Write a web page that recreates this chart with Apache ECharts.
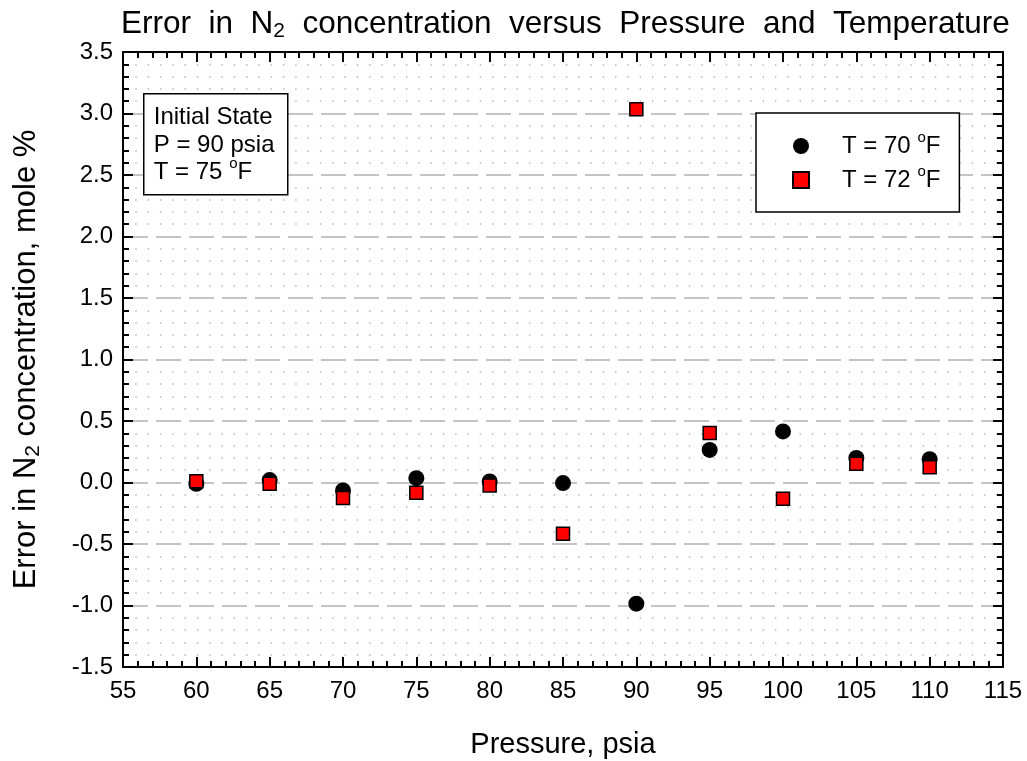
<!DOCTYPE html>
<html>
<head>
<meta charset="utf-8">
<script src="https://cdn.jsdelivr.net/npm/echarts@6/dist/echarts.min.js"></script>
<style>
html,body{margin:0;padding:0;background:#fff;}
#chart{width:1027px;height:761px;}
</style>
</head>
<body>
<div id="chart"></div>
<script>
// Data
var pressures = [60, 65, 70, 75, 80, 85, 90, 95, 100, 105, 110];
var errT70 = [-0.01, 0.02, -0.065, 0.035, 0.008, -0.005, -0.985, 0.265, 0.415, 0.20, 0.19];
var errT72 = [0.01, -0.01, -0.127, -0.084, -0.024, -0.416, 3.035, 0.403, -0.133, 0.152, 0.124];
var seriesNames = ['T = 70 oF', 'T = 72 oF'];
var xTicks = {min: 55, max: 115, interval: 5};
var yTicks = {min: -1.5, max: 3.5, interval: 0.5};

var FONT = '"Liberation Sans", Arial, Helvetica, sans-serif';

function pairs(xs, ys){ return xs.map(function(x,i){return [x, ys[i]];}); }

var chart = echarts.init(document.getElementById('chart'), null, {renderer:'canvas'});

var axisLineStyle = {color:'#000', width:2};
var baseX = {
  type:'value', min:xTicks.min, max:xTicks.max, interval:xTicks.interval,
  axisLine:{show:true, onZero:false, lineStyle:axisLineStyle},
  axisTick:{show:true, inside:true, length:10, lineStyle:{color:'#000', width:2}},
  minorTick:{show:true, splitNumber:5, length:6, lineStyle:{color:'#000', width:2}},
  splitLine:{show:false}, minorSplitLine:{show:false}
};
var baseY = {
  type:'value', min:yTicks.min, max:yTicks.max, interval:yTicks.interval,
  axisLine:{show:true, onZero:false, lineStyle:axisLineStyle},
  axisTick:{show:true, inside:true, length:10, lineStyle:{color:'#000', width:2}},
  minorTick:{show:true, splitNumber:5, length:6, lineStyle:{color:'#000', width:2}},
  splitLine:{show:false}, minorSplitLine:{show:false}
};

var supStyle = {fontFamily:FONT, fontSize:15, color:'#000', lineHeight:8, padding:[0,0,17,0]};

var option = {
  backgroundColor:'#fff',
  animation:false,
  title:{
    text:'{t|Error  in  N}{sub|2}{t|  concentration  versus  Pressure  and  Temperature}',
    left:116, top:1,
    textStyle:{
      fontWeight:'normal',
      rich:{
        t:{fontFamily:FONT, fontSize:31.5, fontWeight:'normal', color:'#000'},
        sub:{fontFamily:FONT, fontSize:21, fontWeight:'normal', color:'#000', padding:[15,0,0,0]}
      }
    }
  },
  grid:{left:123, right:24, top:52, bottom:94, containLabel:false, outerBoundsMode:'none'},
  legend:{
    data:[
      {name:seriesNames[0], icon:'circle'},
      {name:seriesNames[1], icon:'rect'}
    ],
    orient:'vertical', left:756, top:113,
    itemWidth:16, itemHeight:16, itemGap:2,
    padding:[17,19,16,36],
    borderColor:'#000', borderWidth:1.5, backgroundColor:'#fff',
    formatter:function(n){
      var v = n.replace('T = ','').replace(' oF','');
      return '{a|T = ' + v + ' }{s|o}{a|F}';
    },
    textStyle:{
      rich:{
        a:{fontFamily:FONT, fontSize:24, color:'#000', lineHeight:24},
        s:supStyle
      },
      padding:[0,0,0,28]
    }
  },
  xAxis:[
    Object.assign({}, baseX, {
      position:'bottom',
      axisLabel:{show:true, margin:12, fontFamily:FONT, fontSize:24, color:'#000'},
      name:'Pressure, psia', nameLocation:'middle', nameGap:63,
      nameTextStyle:{fontFamily:FONT, fontSize:29, color:'#000'}
    }),
    Object.assign({}, baseX, {position:'top', axisLabel:{show:false}})
  ],
  yAxis:[
    Object.assign({}, baseY, {
      position:'left',
      axisLabel:{show:true, margin:10, fontFamily:FONT, fontSize:24, color:'#000',
        formatter:function(v){return v.toFixed(1);}},
      splitLine:{show:true, lineStyle:{color:'#c4c4c4', width:2, type:[25,8]}},
      minorSplitLine:{show:true, lineStyle:{color:'#b8b8b8', width:1.5, type:[1.5,10.8]}},
      name:'{a|Error in N}{sub|2}{a| concentration, mole %}',
      nameLocation:'middle', nameGap:79, nameRotate:90,
      nameTextStyle:{
        rich:{
          a:{fontFamily:FONT, fontSize:31, color:'#000'},
          sub:{fontFamily:FONT, fontSize:21, color:'#000', padding:[15,0,0,0]}
        }
      }
    }),
    Object.assign({}, baseY, {position:'right', axisLabel:{show:false}})
  ],
  series:[
    {
      name:seriesNames[0], type:'scatter', xAxisIndex:0, yAxisIndex:0,
      symbol:'circle', symbolSize:16,
      itemStyle:{color:'#000', opacity:1},
      data:pairs(pressures, errT70), z:3
    },
    {
      name:seriesNames[1], type:'scatter', xAxisIndex:0, yAxisIndex:0,
      symbol:'rect', symbolSize:13,
      itemStyle:{color:'#ff0000', borderColor:'#000', borderWidth:1.5, opacity:1},
      data:pairs(pressures, errT72), z:4
    }
  ],
  graphic:[
    {
      type:'group', left:143, top:93, z:100,
      children:[
        {type:'rect', z:100, shape:{x:0, y:0, width:144, height:101},
         style:{fill:'#fff', stroke:'#000', lineWidth:1.5}},
        {type:'text', z:101, left:10, top:12,
         style:{
           text:'{a|Initial State}\n{a|P = 90 psia}\n{a|T = 75 }{s|o}{a|F}',
           rich:{
             a:{fontFamily:FONT, fontSize:24, fill:'#000', lineHeight:27.5},
             s:{fontFamily:FONT, fontSize:15, fill:'#000', lineHeight:8, padding:[0,0,17,0]}
           }
         }}
      ]
    }
  ]
};
chart.setOption(option);
</script>
</body>
</html>
